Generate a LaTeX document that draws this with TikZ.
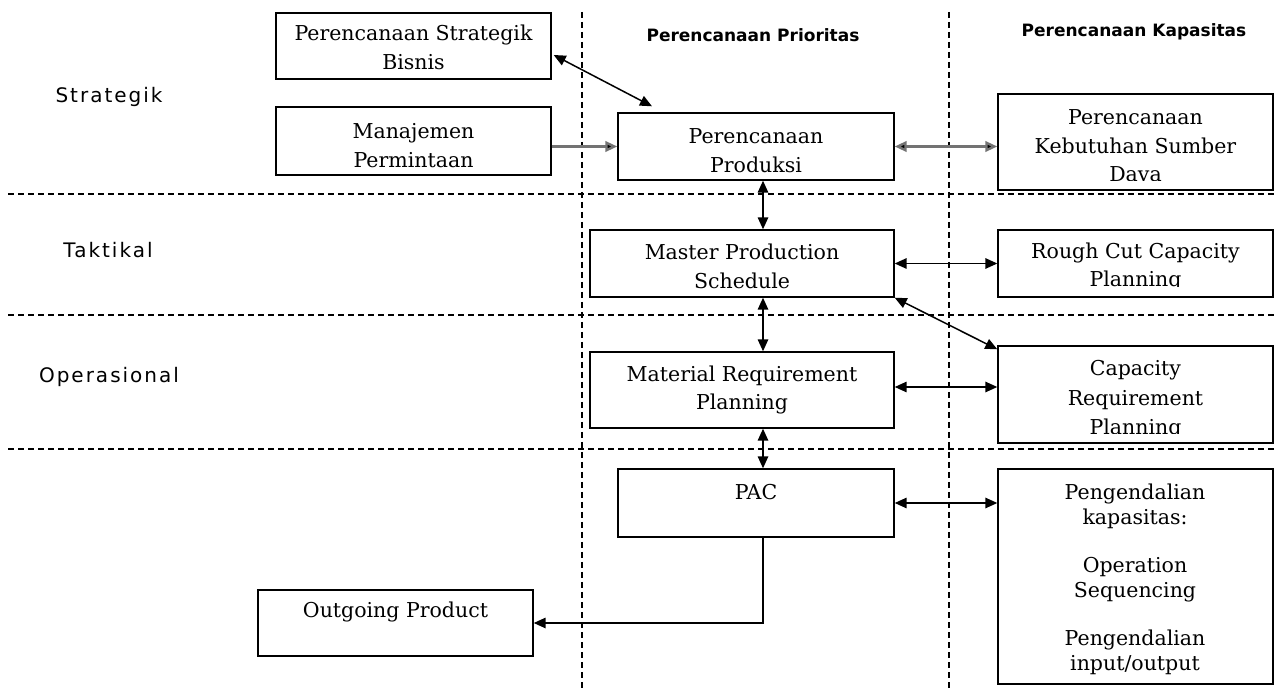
\documentclass[tikz,border=0pt]{standalone}
\usepackage{fontspec}
\setmainfont{DejaVu Serif}
\newfontfamily\lblfont[LetterSpace=10]{DejaVu Sans}
\newfontfamily\ttlfont{DejaVu Sans}
\usetikzlibrary{arrows.meta,calc}
\begin{document}
\begin{tikzpicture}[x=1pt,y=-1pt,
  box/.style={draw, line width=1.4pt, rectangle, inner sep=0pt},
  txt/.style={align=center, inner sep=0pt, font=\fontsize{20.5}{28.5}\selectfont},
  lbl/.style={inner sep=0pt, font=\lblfont\fontsize{20}{24}\selectfont},
  ttl/.style={inner sep=0pt, font=\ttlfont\bfseries\fontsize{17}{20}\selectfont},
  sep/.style={dash pattern=on 6pt off 4pt, line width=1.2pt},
  tip/.tip={Triangle[length=12pt,width=10.5pt]},
  conn/.style={line width=1.5pt, {tip}-{tip}},
  gconn/.style={line width=2.4pt, draw=black!55, {tip[fill=black]}-{tip[fill=black]}},
  garr/.style={line width=2.4pt, draw=black!55, -{tip[fill=black]}},
  arr/.style={line width=1.5pt, -{tip}}
]
\useasboundingbox (0,0) rectangle (1278,692);

% separators
\draw[sep] (8,194) -- (1278,194);
\draw[sep] (8,315) -- (1278,315);
\draw[sep] (8,449) -- (1278,449);
\draw[sep] (582,12) -- (582,692);
\draw[sep] (949,12) -- (949,692);

% titles and row labels
\node[ttl] (t1) at (753,35) {Perencanaan Prioritas};
\node[ttl] (t2) at (1134,32) {Perencanaan Kapasitas};
\node[lbl] (l1) at (109,97) {Strategik};
\node[lbl] (l2) at (108,250) {Taktikal};
\node[lbl] (l3) at (109,377) {Operasional};

% boxes
\node[box, fill=white, minimum width=275pt, minimum height=66pt] (psb) at (413.5,46) {};
\node[txt] (psbt) at (413.5,47.5) {Perencanaan Strategik\\Bisnis};
\node[box, fill=white, minimum width=275pt, minimum height=68pt] (mp) at (413.5,141) {};
\node[txt] (mpt) at (413.5,145.5) {Manajemen\\Permintaan};
\node[box, fill=white, minimum width=276pt, minimum height=67pt] (pp) at (756,146.5) {};
\node[txt] (ppt) at (756,150.5) {Perencanaan\\Produksi};
\node[box, fill=white, minimum width=275pt, minimum height=96pt] (pksd) at (1135.5,142) {};
\begin{scope}
  \clip (998,94) rectangle (1273,181);
  \node[txt] (pksdt) at (1135.5,148) {Perencanaan\\Kebutuhan Sumber\\Daya};
\end{scope}
\node[box, fill=white, minimum width=304pt, minimum height=67pt] (mps) at (742,263.5) {};
\node[txt] (mpst) at (742,266.5) {Master Production\\Schedule};
\node[box, fill=white, minimum width=275pt, minimum height=67pt] (rccp) at (1135.5,263.5) {};
\begin{scope}
  \clip (998,230) rectangle (1273,287);
  \node[txt] (rccpt) at (1135.5,267) {Rough Cut Capacity\\Planning};
\end{scope}
\node[box, fill=white, minimum width=304pt, minimum height=76pt] (mrp) at (742,390) {};
\node[txt] (mrpt) at (742,390) {Material Requirement\\Planning};
\node[box, fill=white, minimum width=275pt, minimum height=97pt] (crp) at (1135.5,394.5) {};
\begin{scope}
  \clip (998,346) rectangle (1273,434);
  \node[txt, font=\fontsize{20.5}{29.5}\selectfont] (crpt) at (1135.5,400) {Capacity\\Requirement\\Planning};
\end{scope}
\node[box, minimum width=276pt, minimum height=68pt] (pac) at (756,503) {};
\node[txt] (pact) at (756,492) {PAC};
\node[box, minimum width=275pt, minimum height=215pt] (pk) at (1135.5,576.5) {};
\node[txt, font=\fontsize{20.5}{25}\selectfont] (pkt) at (1135,579.5) {Pengendalian\\kapasitas:\\[23pt]Operation\\Sequencing\\[23pt]Pengendalian\\input/output};
\node[box, minimum width=275pt, minimum height=66pt] (op) at (395.5,623) {};
\node[txt] (opt) at (395.5,612) {Outgoing Product};

% helper coordinates
\coordinate (vx) at (763,0);
\coordinate (hy) at (0,387);

% connectors
\draw[conn] ($(psb.east)+(2,9)$) -- ($(pp.north)+(-104,-6)$);
\draw[garr] (mp.east |- pp.west) -- (pp.west);
\draw[gconn] (pp.east) -- (pp.east -| pksd.west);
\draw[conn] (pp.south -| vx) -- (mps.north -| vx);
\draw[conn] (mps.east) -- (mps.east -| rccp.west);
\draw[conn] (mps.south -| vx) -- (mrp.north -| vx);
\draw[conn] (mps.south east) -- ($(crp.north west)+(0,4)$);
\draw[conn] (mrp.east |- hy) -- (crp.west |- hy);
\draw[conn] (mrp.south -| vx) -- (pac.north -| vx);
\draw[conn] (pac.east) -- (pac.east -| pk.west);
\draw[arr] (pac.south -| vx) |- (op.east);
\end{tikzpicture}
\end{document}
